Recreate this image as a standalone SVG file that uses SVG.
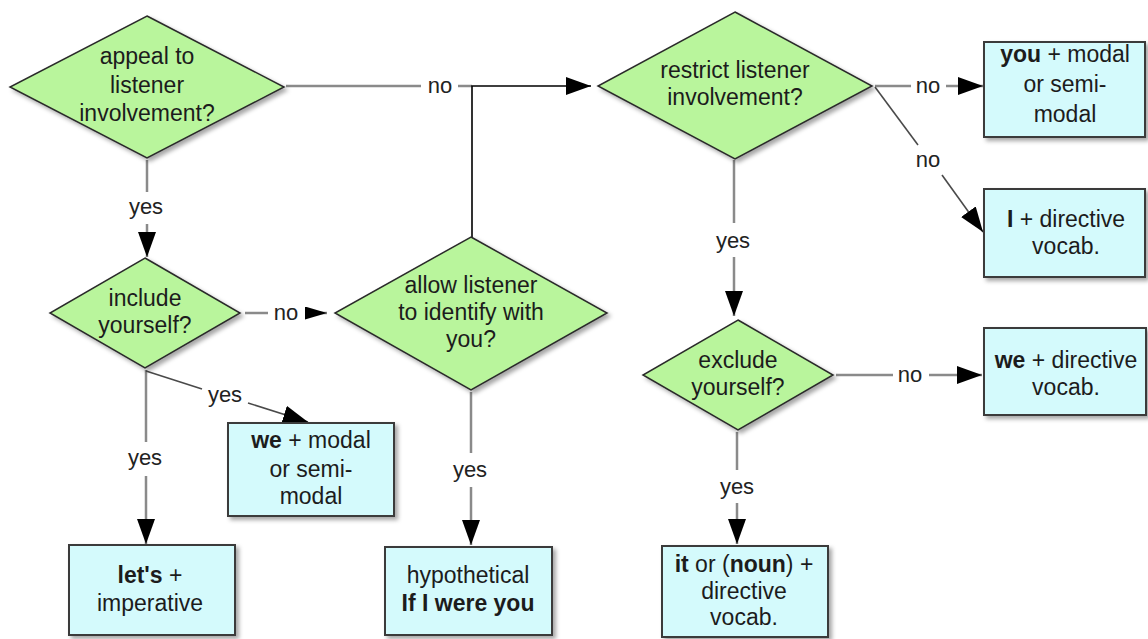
<svg xmlns="http://www.w3.org/2000/svg" width="1148" height="639" viewBox="0 0 1148 639">
  <style>
    .dia { fill: #b9f59c; stroke: #2a2a2a; stroke-width: 1.5; filter: url(#sh); }
    .box { fill: #d4fafc; stroke: #3a3a3a; stroke-width: 2; filter: url(#sh); }
    text { font-family: "Liberation Sans", Arial, sans-serif; font-size: 23px; fill: #1c1c1c; text-anchor: middle; }
    .b { font-weight: bold; }
    .ln { fill: none; stroke: #8a8a8a; stroke-width: 2.5; }
    .dg { fill: none; stroke: #4a4a4a; stroke-width: 1.6; }
    .bk { fill: none; stroke: #000; stroke-width: 1.6; }
    .lbl { font-size: 22px; fill: #222; }
  </style>
  <defs>
    <filter id="sh" x="-10%" y="-10%" width="130%" height="130%">
      <feDropShadow dx="3" dy="3" stdDeviation="2" flood-color="#000" flood-opacity="0.35"/>
    </filter>
    <marker id="ah" markerUnits="userSpaceOnUse" markerWidth="26" markerHeight="20" refX="25" refY="9" orient="auto">
      <path d="M0,0 L25,9 L0,18 z" fill="#000"/>
    </marker>
    <marker id="ahs" markerUnits="userSpaceOnUse" markerWidth="24" markerHeight="14" refX="22" refY="6.5" orient="auto">
      <path d="M0,0 L22,6.5 L0,13 z" fill="#000"/>
    </marker>
  </defs>

  <g id="connectors">
    <!-- A -> B (no) -->
    <line class="ln" x1="286" y1="86" x2="421" y2="86"/>
    <text class="lbl" x="440" y="93">no</text>
    <line class="ln" x1="458" y1="86" x2="472" y2="86"/>
    <!-- C -> B (black, joining) -->
    <polyline class="bk" points="472,237 472,86 591,86" marker-end="url(#ah)"/>
    <!-- A -> E (yes) -->
    <line class="ln" x1="147" y1="160" x2="147" y2="192"/>
    <text class="lbl" x="146" y="214">yes</text>
    <line class="ln" x1="147" y1="224" x2="147" y2="257" marker-end="url(#ah)"/>
    <!-- E -> C (no) -->
    <line class="ln" x1="245" y1="313" x2="268" y2="313"/>
    <text class="lbl" x="286" y="320">no</text>
    <line class="ln" x1="305" y1="313" x2="327" y2="313" marker-end="url(#ahs)"/>
    <!-- E -> let's (yes) -->
    <line class="ln" x1="146" y1="370" x2="146" y2="442"/>
    <text class="lbl" x="145" y="465">yes</text>
    <line class="ln" x1="146" y1="476" x2="146" y2="544" marker-end="url(#ah)"/>
    <!-- E -> we+modal (yes) -->
    <line class="dg" x1="146" y1="371" x2="202" y2="389"/>
    <text class="lbl" x="225" y="402">yes</text>
    <line class="dg" x1="248" y1="403" x2="308" y2="422" marker-end="url(#ah)"/>
    <!-- C -> hypothetical (yes) -->
    <line class="ln" x1="471" y1="392" x2="471" y2="453"/>
    <text class="lbl" x="470" y="477">yes</text>
    <line class="ln" x1="471" y1="487" x2="471" y2="545" marker-end="url(#ah)"/>
    <!-- B -> you (no) -->
    <line class="ln" x1="875" y1="86" x2="911" y2="86"/>
    <text class="lbl" x="928" y="93">no</text>
    <line class="ln" x1="946" y1="86" x2="983" y2="86" marker-end="url(#ah)"/>
    <!-- B -> I (no) -->
    <line class="dg" x1="875" y1="87" x2="918" y2="145"/>
    <text class="lbl" x="928" y="167">no</text>
    <line class="dg" x1="942" y1="175" x2="983" y2="232" marker-end="url(#ah)"/>
    <!-- B -> D (yes) -->
    <line class="ln" x1="734" y1="160" x2="734" y2="223"/>
    <text class="lbl" x="733" y="248">yes</text>
    <line class="ln" x1="734" y1="257" x2="734" y2="316" marker-end="url(#ah)"/>
    <!-- D -> we+directive (no) -->
    <line class="ln" x1="836" y1="375" x2="893" y2="375"/>
    <text class="lbl" x="910" y="382">no</text>
    <line class="ln" x1="929" y1="375" x2="982" y2="375" marker-end="url(#ah)"/>
    <!-- D -> it (yes) -->
    <line class="ln" x1="737" y1="432" x2="737" y2="470"/>
    <text class="lbl" x="737" y="494">yes</text>
    <line class="ln" x1="737" y1="503" x2="737" y2="544" marker-end="url(#ah)"/>
  </g>

  <g id="n-appeal">
    <polygon class="dia" points="147,16 284,87 147,158 10,87"/>
    <text x="147" y="64">appeal to</text>
    <text x="147" y="93">listener</text>
    <text x="147" y="121">involvement?</text>
  </g>

  <g id="n-restrict">
    <polygon class="dia" points="735,12 872,86 735,159 598,86"/>
    <text x="735" y="78">restrict listener</text>
    <text x="735" y="105">involvement?</text>
  </g>

  <g id="n-include">
    <polygon class="dia" points="145,258 240,313 145,368 50,313"/>
    <text x="145" y="306">include</text>
    <text x="145" y="333">yourself?</text>
  </g>

  <g id="n-allow">
    <polygon class="dia" points="471,237 607,313 471,390 335,313"/>
    <text x="471" y="293">allow listener</text>
    <text x="471" y="320">to identify with</text>
    <text x="471" y="347">you?</text>
  </g>

  <g id="n-exclude">
    <polygon class="dia" points="738,320 833,375 738,430 643,375"/>
    <text x="738" y="368">exclude</text>
    <text x="738" y="395">yourself?</text>
  </g>

  <g id="n-you-modal">
    <rect class="box" x="984" y="42" width="161" height="95"/>
    <text x="1065" y="62"><tspan class="b">you</tspan> + modal</text>
    <text x="1065" y="92">or semi-</text>
    <text x="1065" y="122">modal</text>
  </g>

  <g id="n-i-directive">
    <rect class="box" x="984" y="189" width="161" height="88"/>
    <text x="1066" y="227"><tspan class="b">I</tspan> + directive</text>
    <text x="1066" y="254">vocab.</text>
  </g>

  <g id="n-we-directive">
    <rect class="box" x="984" y="328" width="162" height="87"/>
    <text x="1066" y="368"><tspan class="b">we</tspan> + directive</text>
    <text x="1066" y="395">vocab.</text>
  </g>

  <g id="n-we-modal">
    <rect class="box" x="228" y="423" width="166" height="93"/>
    <text x="311" y="448"><tspan class="b">we</tspan> + modal</text>
    <text x="311" y="477">or semi-</text>
    <text x="311" y="504">modal</text>
  </g>

  <g id="n-lets">
    <rect class="box" x="69" y="545" width="166" height="90"/>
    <text x="150" y="583"><tspan class="b">let's</tspan> +</text>
    <text x="150" y="611">imperative</text>
  </g>

  <g id="n-hypothetical">
    <rect class="box" x="385" y="547" width="167" height="88"/>
    <text x="468" y="583">hypothetical</text>
    <text x="468" y="611" class="b">If I were you</text>
  </g>

  <g id="n-it">
    <rect class="box" x="662" y="546" width="166" height="91"/>
    <text x="744" y="572"><tspan class="b">it</tspan> or (<tspan class="b">noun</tspan>) +</text>
    <text x="744" y="599">directive</text>
    <text x="744" y="625">vocab.</text>
  </g>
</svg>
